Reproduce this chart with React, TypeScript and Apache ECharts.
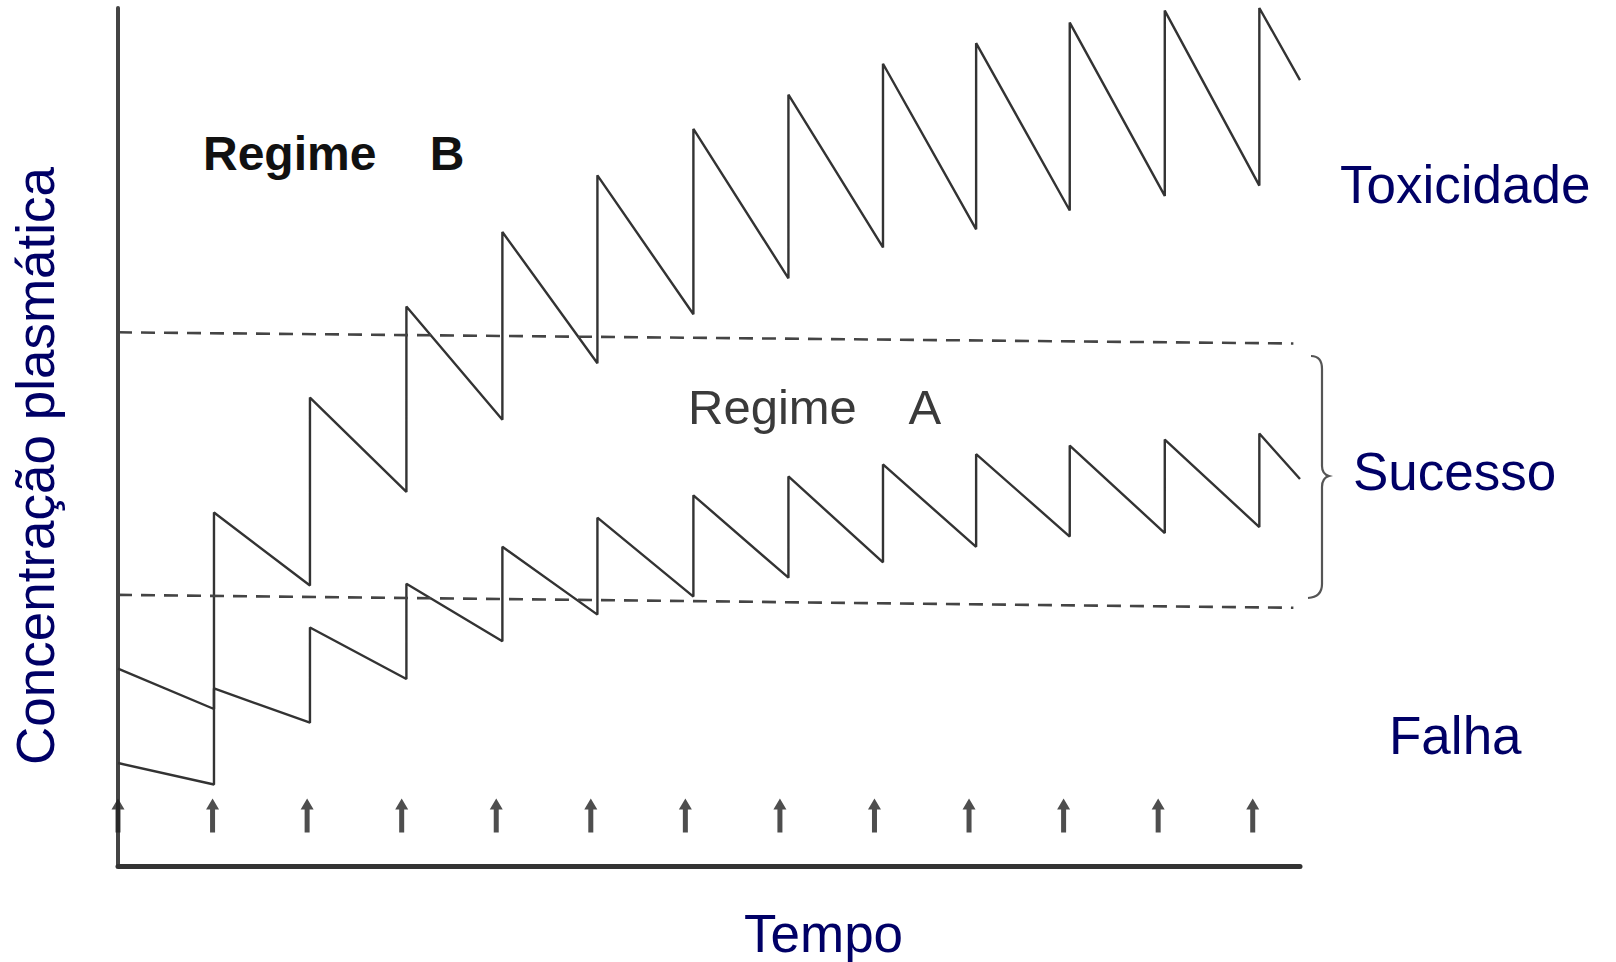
import React, { useEffect, useRef } from "react";
import * as echarts from "echarts";

// Dose times (dosing intervals) marked by arrows, and end of observation
const doseTimes = [0, 1, 2, 3, 4, 5, 6, 7, 8, 9, 10, 11, 12];
// Times at which the drawn curves jump after each dose
const curveDoseTimes = [0, 1.015, 2.03, 3.05, 4.065, 5.07, 6.085, 7.09, 8.09, 9.075, 10.065, 11.07, 12.07];
const endTime = 12.5;

// Regime B (large doses): concentration before each dose (trough) and right after (peak)
const regimeBStart = 12.0;
const regimeBTroughs = [9.5, 32.7, 43.6, 52.0, 58.6, 64.3, 68.5, 72.1, 74.2, 76.4, 78.1, 79.3];
const regimeBPeaks = [41.2, 54.6, 65.2, 73.9, 80.5, 85.9, 89.9, 93.5, 95.9, 98.3, 99.7, 100];
const regimeBEnd = 91.6;

// Regime A (small doses)
const regimeAStart = 23.0;
const regimeATroughs = [18.3, 16.7, 21.8, 26.2, 29.3, 31.4, 33.6, 35.4, 37.2, 38.4, 38.8, 39.5];
const regimeAPeaks = [20.7, 27.8, 32.9, 37.2, 40.6, 43.2, 45.4, 46.8, 48.0, 49.0, 49.7, 50.4];
const regimeAEnd = 45.1;

// Therapeutic window limits (dashed lines): [start, end] values
const thresholdSpan = [0, 12.43];
const toxicThreshold = [62.2, 60.9];
const minEffectiveThreshold = [31.6, 30.1];

// Dose marker level
const doseMarkerLevel = 5.9;

const zoneLabels = ["Toxicidade", "Sucesso", "Falha"];

function sawtooth(start: number, troughs: number[], peaks: number[], end: number) {
  const pts: number[][] = [[curveDoseTimes[0], start]];
  for (let i = 0; i < troughs.length; i++) {
    pts.push([curveDoseTimes[i + 1], troughs[i]]);
    pts.push([curveDoseTimes[i + 1], peaks[i]]);
  }
  pts.push([endTime, end]);
  return pts;
}

const NAVY = "#000066";
const FONT = "'Liberation Sans', Arial, Helvetica, sans-serif";

echarts.graphic.registerShape(
  "brace",
  echarts.graphic.extendPath(
    "M1311,356 Q1322,356 1322,369 L1322,466 Q1322,474 1329,476 Q1322,478 1322,487 L1322,584 Q1322,597 1308,598",
    {}
  )
);

export default function App() {
  const ref = useRef<HTMLDivElement>(null);

  useEffect(() => {
    if (!ref.current) return;
    const chart = echarts.init(ref.current, null, { renderer: "svg" });

    const lineColor = "#333333";
    const dashStyle = { color: "#444444", width: 2.6, type: [14, 9] as any };

    const textStyle = (text: string, font: string, fill: string, align = "left") => ({
      text,
      font,
      fill,
      align,
      verticalAlign: "middle",
      textAlign: align,
      textVerticalAlign: "middle",
    });

    const option: any = {
      animation: false,
      backgroundColor: "#ffffff",
      grid: { left: 118, right: 316, top: 8, bottom: 96, containLabel: false },
      xAxis: {
        type: "value",
        min: 0,
        max: endTime,
        axisLine: { show: true, onZero: false, lineStyle: { color: "#333", width: 5 } },
        axisTick: { show: false },
        axisLabel: { show: false },
        splitLine: { show: false },
      },
      yAxis: {
        type: "value",
        min: 0,
        max: 100,
        axisLine: { show: true, onZero: false, lineStyle: { color: "#444", width: 4 } },
        axisTick: { show: false },
        axisLabel: { show: false },
        splitLine: { show: false },
      },
      series: [
        {
          name: "Regime B",
          type: "line",
          data: sawtooth(regimeBStart, regimeBTroughs, regimeBPeaks, regimeBEnd),
          showSymbol: false,
          silent: true,
          clip: false,
          lineStyle: { color: lineColor, width: 2.4 },
        },
        {
          name: "Regime A",
          type: "line",
          data: sawtooth(regimeAStart, regimeATroughs, regimeAPeaks, regimeAEnd),
          showSymbol: false,
          silent: true,
          clip: false,
          lineStyle: { color: lineColor, width: 2.4 },
        },
        {
          name: "Toxicidade limite",
          type: "line",
          data: [
            [thresholdSpan[0], toxicThreshold[0]],
            [thresholdSpan[1], toxicThreshold[1]],
          ],
          showSymbol: false,
          silent: true,
          lineStyle: dashStyle,
        },
        {
          name: "Concentração mínima eficaz",
          type: "line",
          data: [
            [thresholdSpan[0], minEffectiveThreshold[0]],
            [thresholdSpan[1], minEffectiveThreshold[1]],
          ],
          showSymbol: false,
          silent: true,
          lineStyle: dashStyle,
        },
        {
          name: "Doses",
          type: "scatter",
          data: doseTimes.map((t) => [t, doseMarkerLevel]),
          symbol: "path://M6.5,0 L13,11 L9,11 L9,34 L4,34 L4,11 L0,11 Z",
          symbolSize: [13, 34],
          silent: true,
          itemStyle: { color: "#222222" },
        },
      ],
      graphic: [
        {
          type: "text",
          x: 203,
          y: 153,
          style: textStyle("Regime    B", `bold 48px ${FONT}`, "#111"),
        },
        {
          type: "text",
          x: 688,
          y: 407,
          style: textStyle("Regime    A", `49px ${FONT}`, "#3a3a3a"),
        },
        {
          type: "brace",
          x: 0,
          y: 0,
          silent: true,
          style: { stroke: "#555", lineWidth: 2.2, fill: "none" },
        },
        { type: "text", x: 1340, y: 184, style: textStyle(zoneLabels[0], `53px ${FONT}`, NAVY) },
        { type: "text", x: 1353, y: 471, style: textStyle(zoneLabels[1], `53px ${FONT}`, NAVY) },
        { type: "text", x: 1389, y: 735, style: textStyle(zoneLabels[2], `53px ${FONT}`, NAVY) },
        { type: "text", x: 744, y: 933, style: textStyle("Tempo", `53px ${FONT}`, NAVY) },
        {
          type: "text",
          x: 35,
          y: 466,
          rotation: Math.PI / 2,
          style: textStyle("Concentração plasmática", `53px ${FONT}`, NAVY, "center"),
        },
      ],
    };

    chart.setOption(option);
    return () => chart.dispose();
  }, []);

  return (
    <div
      ref={ref}
      style={{ position: "fixed", left: 0, top: 0, width: 1616, height: 962, background: "#fff" }}
    />
  );
}
